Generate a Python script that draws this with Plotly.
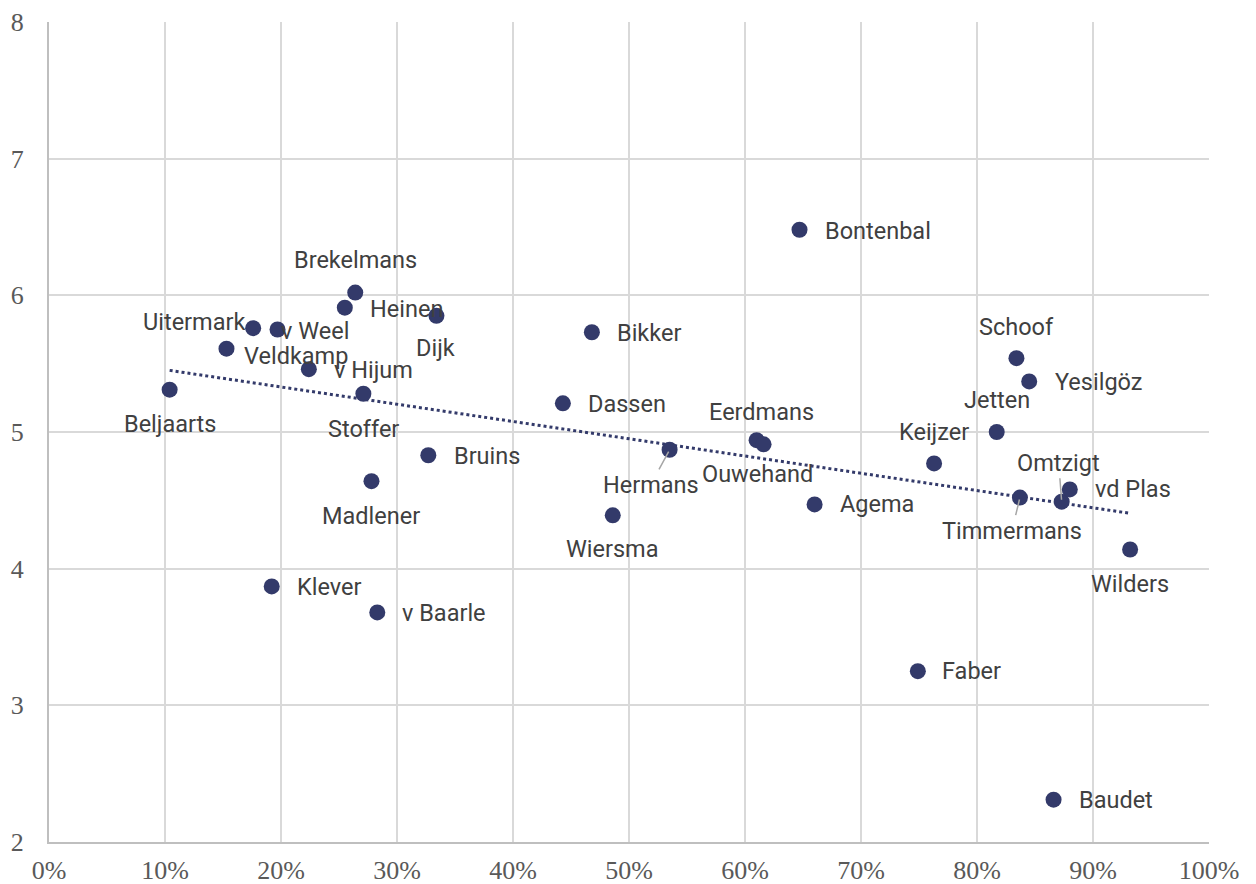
import numpy as np
import plotly.graph_objects as go

names = ["Beljaarts", "Veldkamp", "Uitermark", "v Weel", "v Hijum", "Brekelmans", "Heinen",
         "Stoffer", "Dijk", "Madlener", "Bruins", "Klever", "v Baarle", "Bikker", "Dassen",
         "Hermans", "Wiersma", "Eerdmans", "Ouwehand", "Bontenbal", "Agema", "Faber", "Baudet",
         "Keijzer", "Jetten", "Schoof", "Yesilgöz", "Timmermans", "Omtzigt", "vd Plas", "Wilders"]
x_vals = [0.104, 0.153, 0.176, 0.197, 0.224, 0.264, 0.255,
          0.271, 0.334, 0.278, 0.327, 0.192, 0.283, 0.468, 0.443,
          0.535, 0.486, 0.610, 0.616, 0.647, 0.660, 0.749, 0.866,
          0.763, 0.817, 0.834, 0.845, 0.837, 0.873, 0.880, 0.932]
y_vals = [5.31, 5.61, 5.76, 5.75, 5.46, 6.02, 5.91,
          5.28, 5.85, 4.64, 4.83, 3.87, 3.68, 5.73, 5.21,
          4.87, 4.39, 4.94, 4.91, 6.48, 4.47, 3.25, 2.31,
          4.77, 5.00, 5.54, 5.37, 4.52, 4.49, 4.58, 4.14]
x_ticks = [0, 0.1, 0.2, 0.3, 0.4, 0.5, 0.6, 0.7, 0.8, 0.9, 1.0]
y_ticks = [2, 3, 4, 5, 6, 7, 8]

NAVY = "#333a6a"
LABEL = "#404040"

# label placement: (mode, dx, dy) in pixels; dy positive = down on screen
label_pos = {
    "Beljaarts": ("c", 0, 34), "Veldkamp": ("l", 16, 7), "Uitermark": ("r", -6, -6),
    "v Weel": ("l", 1, 1), "v Hijum": ("l", 23, 1), "Brekelmans": ("c", 0, -33),
    "Heinen": ("l", 23, 1), "Stoffer": ("c", 0, 35), "Dijk": ("c", -1, 32),
    "Madlener": ("c", 0, 35), "Bruins": ("l", 24, 1), "Klever": ("l", 23, 1),
    "v Baarle": ("l", 23, 1), "Bikker": ("l", 23, 1), "Dassen": ("l", 23, 1),
    "Hermans": ("a", -19, 35), "Wiersma": ("c", 0, 34), "Eerdmans": ("c", 5, -28),
    "Ouwehand": ("c", -6, 30), "Bontenbal": ("l", 23, 1), "Agema": ("l", 23, 0),
    "Faber": ("l", 22, 0), "Baudet": ("l", 23, 0), "Keijzer": ("c", 0, -31),
    "Jetten": ("c", 0, -32), "Schoof": ("c", 0, -31), "Yesilgöz": ("l", 24, 1),
    "Timmermans": ("a", -8, 33), "Omtzigt": ("a", -3, -39), "vd Plas": ("l", 23, 0),
    "Wilders": ("c", 0, 34),
}

xa = np.array(x_vals)
ya = np.array(y_vals)
slope, intercept = np.polyfit(xa, ya, 1)
tx = np.array([xa.min(), xa.max()])
ty = slope * tx + intercept

fig = go.Figure()
fig.add_trace(go.Scatter(x=tx, y=ty, mode="lines",
                         line=dict(color=NAVY, width=3, dash="dot"),
                         hoverinfo="skip", showlegend=False))
fig.add_trace(go.Scatter(x=x_vals, y=y_vals, mode="markers",
                         marker=dict(color=NAVY, size=16, line=dict(width=0)),
                         text=names, showlegend=False))

annotations = []
for n, xv, yv in zip(names, x_vals, y_vals):
    mode, dx, dy = label_pos[n]
    base = dict(x=xv, y=yv, xref="x", yref="y", text=n,
                font=dict(family="Roboto", size=23.5, color=LABEL))
    if mode == "a":
        annotations.append(dict(**base, showarrow=True, ax=dx, ay=dy, arrowhead=0,
                                arrowwidth=1.5, arrowcolor="#a6a6a6", standoff=2))
    elif mode == "l":
        annotations.append(dict(**base, showarrow=False, xanchor="left", yanchor="middle",
                                xshift=dx, yshift=-dy))
    elif mode == "r":
        annotations.append(dict(**base, showarrow=False, xanchor="right", yanchor="middle",
                                xshift=dx, yshift=-dy))
    else:
        annotations.append(dict(**base, showarrow=False, xanchor="center", yanchor="middle",
                                xshift=dx, yshift=-dy))

TICKFONT = dict(family="Liberation Serif", size=26, color="#595959")

fig.update_layout(
    width=1248, height=876,
    margin=dict(l=41, r=47, t=14, b=42, autoexpand=False),
    plot_bgcolor="white", paper_bgcolor="white",
    annotations=annotations,
    xaxis=dict(range=[0, 1], tickvals=x_ticks, tickformat=".0%",
               showgrid=True, gridcolor="#d9d9d9", gridwidth=2,
               showline=True, linecolor="#bfbfbf", linewidth=2, mirror=False,
               zeroline=False, ticks="", ticklabelstandoff=4, automargin=False,
               tickfont=TICKFONT),
    yaxis=dict(range=[2, 8], tickvals=y_ticks,
               showgrid=True, gridcolor="#d9d9d9", gridwidth=2,
               showline=True, linecolor="#bfbfbf", linewidth=2,
               zeroline=False, ticks="", ticklabelstandoff=18, automargin=False,
               tickfont=TICKFONT),
)

fig.write_html("out.html")
